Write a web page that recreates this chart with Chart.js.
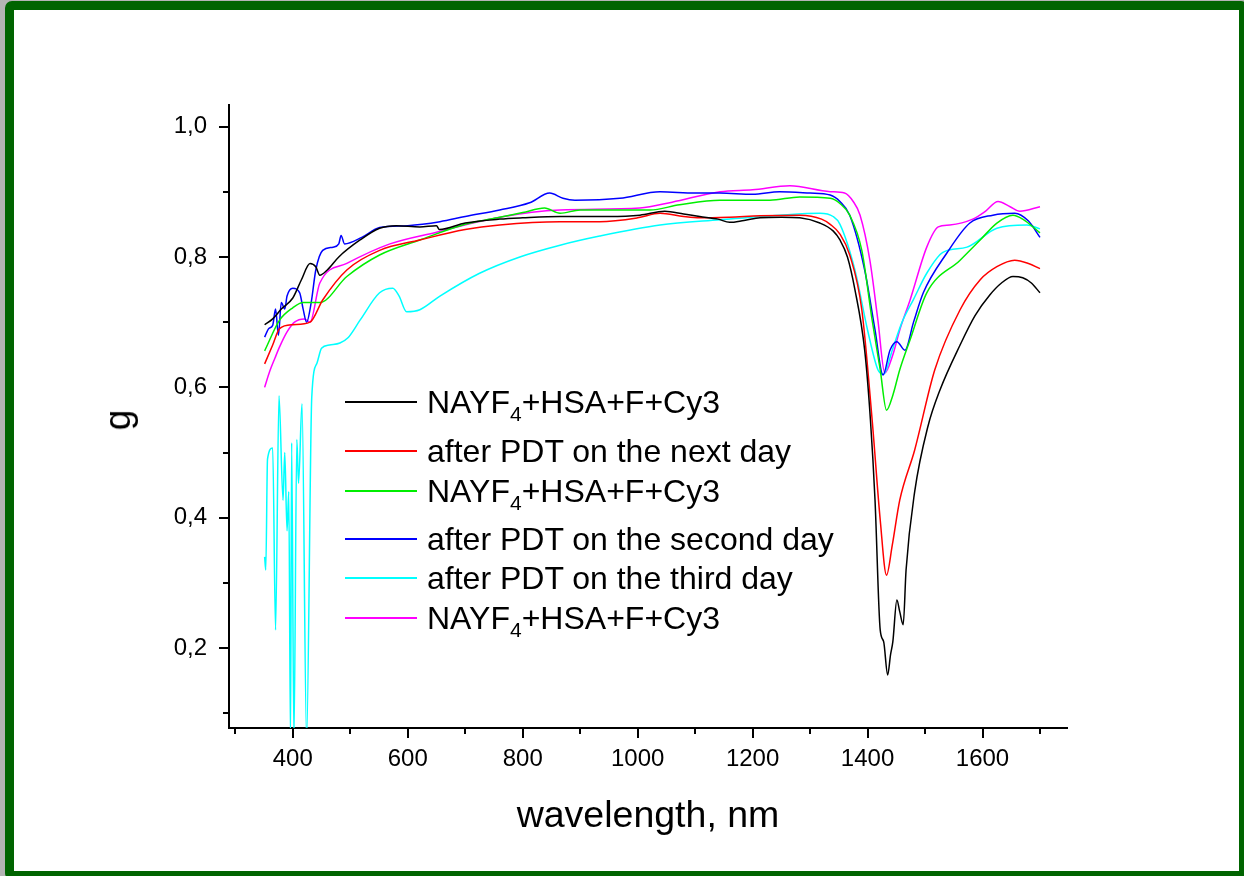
<!DOCTYPE html>
<html>
<head>
<meta charset="utf-8">
<script src="https://cdn.jsdelivr.net/npm/chart.js@4.4.1/dist/chart.umd.min.js"></script>
<style>
  html, body { margin: 0; padding: 0; }
  body { width: 1244px; height: 876px; background: #b4b4b4; overflow: hidden; position: relative;
         font-family: "Liberation Sans", Arial, sans-serif; }
  #frame { position: absolute; left: 5px; top: 1px; width: 1243px; height: 879px; box-sizing: border-box;
           border: 9px solid #006400; border-radius: 7px; background: #fff; }
  #chart { position: absolute; left: 0; top: 0; }
  .leg-line { position: absolute; left: 345px; width: 72px; height: 1.5px; }
  .leg-text { position: absolute; left: 427px; font-size: 32px; line-height: 32px; color: #000; white-space: nowrap; }
  .leg-text sub { font-size: 21px; vertical-align: -8px; line-height: 0; }
  #ytitle { position: absolute; left: 118px; top: 420px; font-size: 37px; transform: translate(-50%, -50%) rotate(-90deg); }
  #xtitle { position: absolute; left: 648px; top: 796px; font-size: 37.5px; line-height: 37px; transform: translateX(-50%); white-space: nowrap; }
</style>
</head>
<body>
<div id="frame"></div>
<canvas id="chart" width="1244" height="876"></canvas>
<div id="legend"></div>
<div id="ytitle">g</div>
<div id="xtitle">wavelength, nm</div>
<script>
// tick values
const X_MAJOR = [400, 600, 800, 1000, 1200, 1400, 1600];
const X_MINOR = [300, 500, 700, 900, 1100, 1300, 1500, 1700];
const Y_MAJOR = [0.2, 0.4, 0.6, 0.8, 1.0];
const Y_MINOR = [0.1, 0.3, 0.5, 0.7, 0.9];

// legend
const LABELS = ['NAYF<sub>4</sub>+HSA+F+Cy3', 'after PDT on the next day', 'NAYF<sub>4</sub>+HSA+F+Cy3',
    'after PDT on the second day', 'after PDT on the third day', 'NAYF<sub>4</sub>+HSA+F+Cy3'];
const COLORS = ['#000000', '#ff0000', '#00ee00', '#0000ff', '#00ffff', '#ff00ff'];

// series (wavelength, nm / g)
const blackWl = [351,365,380,400,415,430,440,447,460,480,517,551,580,621,650,655,700,760,800,865,950,1004,1047,1080,1108,1140,1160,1185,1213,1250,1282,1317,1340,1352,1365,1378,1395,1405,1413,1422,1428,1435,1440,1444,1451,1456,1462,1467,1482,1505,1526,1561,1587,1613,1633,1653,1670,1685,1700];
const blackG  = [0.696,0.705,0.72,0.737,0.765,0.79,0.785,0.772,0.78,0.80,0.826,0.844,0.848,0.846,0.848,0.842,0.852,0.858,0.86,0.862,0.862,0.864,0.87,0.866,0.862,0.858,0.853,0.856,0.86,0.861,0.86,0.852,0.84,0.826,0.80,0.75,0.657,0.55,0.427,0.228,0.21,0.159,0.19,0.21,0.274,0.256,0.236,0.32,0.44,0.54,0.596,0.665,0.71,0.742,0.76,0.77,0.768,0.76,0.745];

const redWl = [351,365,377,400,430,452,494,551,621,700,760,865,934,1000,1039,1080,1108,1160,1213,1282,1320,1335,1352,1369,1390,1408,1422,1433,1443,1456,1482,1517,1561,1596,1625,1656,1680,1700];
const redG  = [0.636,0.665,0.69,0.696,0.70,0.734,0.78,0.81,0.826,0.842,0.849,0.854,0.854,0.86,0.867,0.862,0.86,0.861,0.863,0.864,0.858,0.85,0.835,0.803,0.719,0.55,0.397,0.312,0.358,0.427,0.504,0.627,0.719,0.765,0.785,0.795,0.79,0.782];

const greenWl = [351,377,400,418,447,494,551,621,700,760,800,838,865,900,934,1021,1073,1143,1200,1230,1282,1335,1352,1369,1390,1408,1422,1433,1444,1456,1474,1503,1561,1596,1625,1653,1670,1700];
const greenG  = [0.656,0.703,0.722,0.73,0.73,0.77,0.803,0.826,0.85,0.861,0.868,0.875,0.867,0.872,0.872,0.872,0.88,0.887,0.887,0.887,0.892,0.89,0.882,0.864,0.81,0.703,0.627,0.565,0.588,0.627,0.673,0.745,0.795,0.826,0.852,0.864,0.858,0.837];

const blueWl = [351,358,365,370,375,380,386,390,400,412,418,424,432,440,452,470,480,484,490,520,551,600,656,700,760,812,847,870,891,969,1039,1100,1143,1200,1247,1300,1335,1352,1369,1395,1413,1427,1439,1451,1465,1480,1497,1538,1578,1618,1656,1680,1700];
const blueG  = [0.677,0.69,0.695,0.72,0.68,0.73,0.72,0.74,0.752,0.745,0.72,0.70,0.73,0.78,0.81,0.815,0.82,0.833,0.82,0.83,0.845,0.848,0.854,0.862,0.872,0.883,0.898,0.89,0.887,0.89,0.90,0.898,0.898,0.896,0.90,0.898,0.895,0.885,0.864,0.78,0.688,0.619,0.657,0.67,0.657,0.70,0.745,0.806,0.852,0.864,0.867,0.855,0.83];

const cyanWl = [351,353,356,365,370,376,383,386,390,393,396,398,402,407,410,416,424,433,442,450,464,482,496,517,551,574,585,598,621,656,725,795,865,934,1039,1143,1247,1317,1340,1352,1378,1400,1418,1428,1443,1460,1480,1503,1531,1573,1625,1677,1700];
const cyanG  = [0.34,0.32,0.49,0.507,0.228,0.587,0.427,0.50,0.38,0.44,0.06,0.515,0.06,0.52,0.453,0.575,0.06,0.585,0.637,0.66,0.665,0.668,0.676,0.703,0.745,0.752,0.74,0.716,0.719,0.74,0.775,0.80,0.818,0.832,0.849,0.857,0.864,0.867,0.862,0.85,0.78,0.688,0.627,0.62,0.657,0.70,0.735,0.775,0.807,0.815,0.844,0.849,0.843];

const magentaWl = [351,360,369,377,390,403,420,430,447,494,569,650,760,865,1004,1060,1143,1200,1265,1335,1360,1375,1387,1404,1418,1430,1444,1456,1474,1503,1523,1543,1583,1605,1627,1648,1665,1700];
const magentaG  = [0.60,0.625,0.645,0.662,0.685,0.70,0.705,0.70,0.76,0.79,0.82,0.838,0.861,0.872,0.875,0.884,0.90,0.903,0.909,0.9,0.898,0.885,0.864,0.795,0.703,0.622,0.65,0.688,0.734,0.815,0.846,0.849,0.858,0.87,0.885,0.877,0.87,0.877];

const SERIES = [[blackWl, blackG], [redWl, redG], [greenWl, greenG], [blueWl, blueG], [cyanWl, cyanG], [magentaWl, magentaG]];

// html legend
const LEG_Y = [402, 451, 491, 539, 578, 618];
const legend = document.getElementById('legend');
LABELS.forEach((lab, i) => {
    const ln = document.createElement('div');
    ln.className = 'leg-line';
    ln.style.top = (LEG_Y[i] - 1) + 'px';
    ln.style.background = COLORS[i];
    const tx = document.createElement('div');
    tx.className = 'leg-text';
    tx.style.top = (LEG_Y[i] - 16) + 'px';
    tx.innerHTML = lab;
    legend.appendChild(ln);
    legend.appendChild(tx);
});

const tickMarks = {
    id: 'tickMarks',
    afterDraw(chart) {
        const { ctx, chartArea, scales: { x, y } } = chart;
        ctx.save();
        ctx.strokeStyle = '#000';
        ctx.lineWidth = 2;
        ctx.beginPath();
        const xt = (vals, len) => vals.forEach(v => {
            const px = Math.round(x.getPixelForValue(v));
            ctx.moveTo(px, chartArea.bottom); ctx.lineTo(px, chartArea.bottom + len);
        });
        const yt = (vals, len) => vals.forEach(v => {
            const py = Math.round(y.getPixelForValue(v));
            ctx.moveTo(chartArea.left, py); ctx.lineTo(chartArea.left - len, py);
        });
        xt(X_MAJOR, 10); xt(X_MINOR, 6);
        yt(Y_MAJOR, 10); yt(Y_MINOR, 6);
        ctx.stroke();
        ctx.restore();
    }
};

const tickFont = { family: '"Liberation Sans", Arial, sans-serif', size: 24 };

new Chart(document.getElementById('chart'), {
    type: 'line',
    data: {
        datasets: SERIES.map(([wl, g], i) => ({
            data: wl.map((w, k) => ({ x: w, y: g[k] })),
            borderColor: COLORS[i],
            borderWidth: 1.5,
            pointRadius: 0,
            cubicInterpolationMode: 'monotone',
            fill: false,
        }))
    },
    options: {
        responsive: false,
        animation: false,
        events: [],
        layout: { padding: { top: 105, right: 177, left: 0, bottom: 0 } },
        plugins: { legend: { display: false }, tooltip: { enabled: false } },
        scales: {
            x: {
                type: 'linear',
                min: 289,
                max: 1747,
                afterBuildTicks: s => { s.ticks = X_MAJOR.map(v => ({ value: v })); },
                afterFit: s => { s.height = 148; },
                ticks: { color: '#000', font: tickFont, padding: 7, maxRotation: 0, autoSkip: false,
                         callback: v => String(v) },
                grid: { color: 'rgba(0,0,0,0)', drawOnChartArea: false, tickLength: 10 },
                border: { display: true, color: '#000', width: 2 }
            },
            y: {
                type: 'linear',
                min: 0.0776,
                max: 1.033,
                afterBuildTicks: s => { s.ticks = Y_MAJOR.map(v => ({ value: v })); },
                afterFit: s => { s.width = 229; },
                ticks: { color: '#000', font: tickFont, padding: 12, autoSkip: false,
                         callback: v => v.toFixed(1).replace('.', ',') },
                grid: { color: 'rgba(0,0,0,0)', drawOnChartArea: false, tickLength: 10 },
                border: { display: true, color: '#000', width: 2 }
            }
        }
    },
    plugins: [tickMarks]
});
</script>
</body>
</html>
